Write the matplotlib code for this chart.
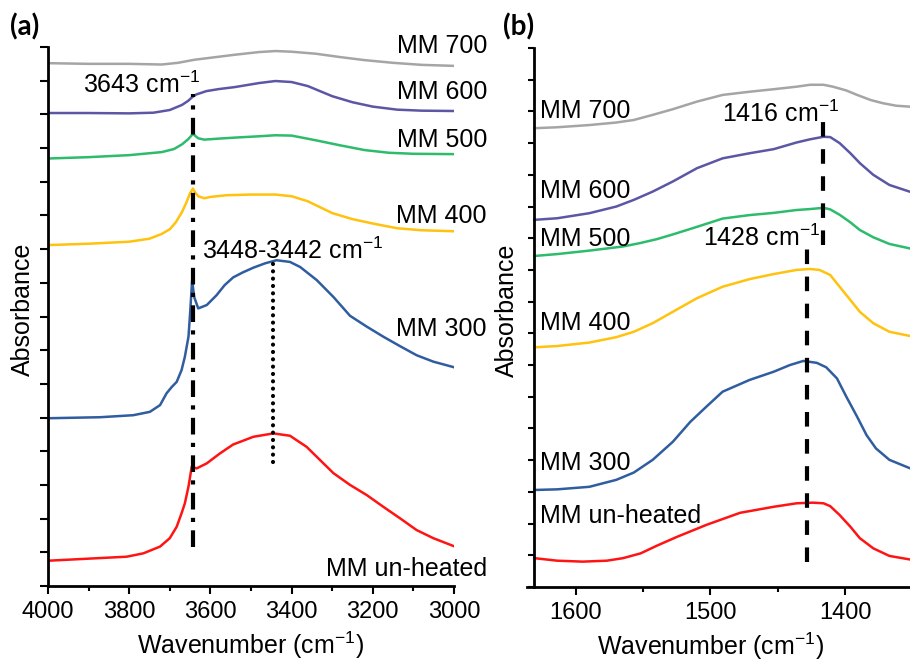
import matplotlib
matplotlib.use('Agg')
import matplotlib.pyplot as plt
from matplotlib.ticker import MultipleLocator, NullFormatter

plt.rcParams['font.family'] = ['Liberation Sans', 'DejaVu Sans']
plt.rcParams['mathtext.fontset'] = 'custom'
plt.rcParams['mathtext.rm'] = 'Liberation Sans'
plt.rcParams['mathtext.it'] = 'Liberation Sans:italic'
plt.rcParams['mathtext.bf'] = 'Liberation Sans:bold'

# ---- (a) O-H stretching region, offset spectra (a.u.) ----
a_wn_700 = [4000, 3900, 3800, 3720, 3680, 3640, 3600, 3540, 3480, 3440, 3400, 3340, 3280, 3220, 3150, 3080, 3000]
a_ab_700 = [15.52, 15.50, 15.50, 15.48, 15.53, 15.62, 15.68, 15.77, 15.85, 15.88, 15.86, 15.80, 15.70, 15.61, 15.53, 15.47, 15.44]

a_wn_600 = [4000, 3900, 3800, 3740, 3700, 3670, 3655, 3645, 3635, 3610, 3580, 3540, 3480, 3440, 3400, 3360, 3300, 3250, 3200, 3140, 3080, 3000]
a_ab_600 = [14.04, 14.04, 14.03, 14.05, 14.13, 14.28, 14.40, 14.51, 14.59, 14.69, 14.75, 14.81, 14.93, 14.99, 14.96, 14.84, 14.54, 14.36, 14.23, 14.14, 14.11, 14.10]

a_wn_500 = [4000, 3900, 3800, 3720, 3690, 3670, 3655, 3646, 3643, 3638, 3630, 3615, 3580, 3540, 3480, 3440, 3400, 3340, 3280, 3220, 3160, 3100, 3000]
a_ab_500 = [12.69, 12.73, 12.79, 12.88, 12.97, 13.11, 13.26, 13.38, 13.43, 13.37, 13.29, 13.25, 13.28, 13.31, 13.35, 13.38, 13.37, 13.23, 13.08, 12.94, 12.86, 12.83, 12.82]

a_wn_400 = [4000, 3900, 3800, 3750, 3720, 3700, 3685, 3670, 3660, 3650, 3643, 3638, 3630, 3615, 3600, 3560, 3500, 3440, 3400, 3360, 3300, 3250, 3200, 3140, 3080, 3000]
a_ab_400 = [10.12, 10.16, 10.22, 10.31, 10.45, 10.59, 10.80, 11.10, 11.36, 11.66, 11.80, 11.69, 11.57, 11.51, 11.55, 11.60, 11.62, 11.62, 11.57, 11.42, 11.07, 10.89, 10.76, 10.62, 10.56, 10.53]

a_wn_300 = [4000, 3872, 3790, 3749, 3724, 3708, 3695, 3683, 3671, 3663, 3654, 3650, 3645, 3640, 3630, 3609, 3585, 3565, 3544, 3520, 3494,
            3465, 3437, 3404, 3379, 3338, 3297, 3256, 3215, 3174, 3133, 3092, 3051, 3002]
a_ab_300 = [4.98, 5.01, 5.07, 5.17, 5.37, 5.72, 5.91, 6.06, 6.41, 6.80, 7.40, 8.09, 9.08, 8.58, 8.24, 8.34, 8.63, 8.93, 9.16, 9.31, 9.45,
            9.58, 9.67, 9.62, 9.47, 9.08, 8.58, 8.02, 7.70, 7.40, 7.12, 6.85, 6.66, 6.50]

a_wn_raw = [4000, 3806, 3765, 3724, 3700, 3683, 3671, 3663, 3654, 3646, 3634, 3609, 3576, 3544, 3494,
            3445, 3404, 3363, 3330, 3297, 3256, 3215, 3174, 3133, 3092, 3051, 3002]
a_ab_raw = [0.75, 0.87, 0.97, 1.17, 1.42, 1.76, 2.16, 2.45, 2.95, 3.54, 3.49, 3.64, 3.94, 4.20, 4.43,
            4.53, 4.46, 4.13, 3.74, 3.35, 3.00, 2.70, 2.35, 2.01, 1.66, 1.42, 1.19]

# ---- (b) carbonate region ----
b_wn_700 = [1631, 1614, 1590, 1570, 1557, 1543, 1528, 1510, 1491, 1471, 1453, 1436, 1426, 1416, 1409, 1399, 1391, 1381, 1372, 1362, 1352]
b_ab_700 = [14.47, 14.50, 14.57, 14.65, 14.73, 14.89, 15.07, 15.31, 15.52, 15.62, 15.70, 15.78, 15.84, 15.84, 15.78, 15.66, 15.52, 15.36, 15.26, 15.18, 15.15]

b_wn_600 = [1631, 1614, 1590, 1570, 1557, 1543, 1528, 1510, 1491, 1471, 1453, 1436, 1426, 1416, 1411, 1404, 1396, 1389, 1379, 1367, 1352]
b_ab_600 = [11.58, 11.63, 11.79, 12.00, 12.21, 12.47, 12.79, 13.21, 13.52, 13.68, 13.81, 14.02, 14.12, 14.20, 14.19, 14.00, 13.68, 13.37, 13.00, 12.68, 12.47]

b_wn_500 = [1631, 1614, 1590, 1565, 1552, 1540, 1528, 1510, 1491, 1471, 1453, 1436, 1426, 1416, 1411, 1404, 1396, 1389, 1379, 1367, 1352]
b_ab_500 = [10.44, 10.50, 10.61, 10.74, 10.85, 10.97, 11.12, 11.36, 11.62, 11.73, 11.80, 11.89, 11.92, 11.96, 11.91, 11.74, 11.50, 11.26, 11.03, 10.82, 10.68]

b_wn_400 = [1631, 1614, 1590, 1570, 1557, 1543, 1528, 1510, 1491, 1471, 1453, 1436, 1426, 1419, 1411, 1404, 1396, 1389, 1379, 1367, 1352]
b_ab_400 = [7.56, 7.60, 7.71, 7.88, 8.05, 8.32, 8.68, 9.11, 9.47, 9.71, 9.87, 10.00, 10.03, 10.00, 9.84, 9.47, 9.05, 8.68, 8.32, 8.05, 7.92]

b_wn_300 = [1631, 1614, 1590, 1570, 1557, 1543, 1528, 1515, 1503, 1491, 1471, 1453, 1441, 1431, 1421, 1414, 1406, 1399, 1391, 1384, 1377, 1367, 1352]
b_ab_300 = [3.06, 3.08, 3.16, 3.38, 3.61, 4.01, 4.58, 5.21, 5.69, 6.16, 6.53, 6.79, 7.00, 7.13, 7.07, 6.93, 6.58, 6.00, 5.37, 4.79, 4.37, 4.01, 3.75]

b_wn_raw = [1631, 1614, 1595, 1577, 1565, 1552, 1540, 1525, 1503, 1478, 1453, 1436, 1424, 1416, 1411, 1404, 1396, 1389, 1379, 1367, 1352]
b_ab_raw = [0.91, 0.83, 0.80, 0.83, 0.91, 1.06, 1.30, 1.58, 1.96, 2.34, 2.53, 2.64, 2.66, 2.64, 2.55, 2.27, 1.90, 1.54, 1.22, 0.98, 0.87]

names = ['MM 700', 'MM 600', 'MM 500', 'MM 400', 'MM 300', 'MM un-heated']
colors = ['#a5a5a5', '#5b57a5', '#2dbb6c', '#ffc20e', '#2f5d9f', '#ff1414']

# peak positions (cm-1)
peak_oh = 3643
peak_h2o = 3445
peak_co3_hi = 1416
peak_co3_lo = 1428

fig = plt.figure(figsize=(9.1, 6.63), dpi=100)
ax1 = fig.add_axes([48 / 910, 77 / 663, 406 / 910, 539 / 663])
ax2 = fig.add_axes([527 / 910, 76 / 663, 383 / 910, 539 / 663])

a_series = [(a_wn_700, a_ab_700), (a_wn_600, a_ab_600), (a_wn_500, a_ab_500),
            (a_wn_400, a_ab_400), (a_wn_300, a_ab_300), (a_wn_raw, a_ab_raw)]
b_series = [(b_wn_700, b_ab_700), (b_wn_600, b_ab_600), (b_wn_500, b_ab_500),
            (b_wn_400, b_ab_400), (b_wn_300, b_ab_300), (b_wn_raw, b_ab_raw)]

for (x, y), c in zip(a_series, colors):
    ax1.plot(x, y, color=c, linewidth=1.8, solid_joinstyle='round')
for (x, y), c in zip(b_series, colors):
    ax2.plot(x, y, color=c, linewidth=1.8, solid_joinstyle='round')

# marker lines
ax1.plot([peak_oh, peak_oh], [1.17, 14.59], color='black', linewidth=3,
         linestyle=(0, (4, 2, 1, 2)))
ax1.plot([peak_h2o, peak_h2o], [3.68, 9.73], color='black', linewidth=3,
         linestyle=(0, (0.01, 1.75)), dash_capstyle='round')
ax2.plot([peak_co3_hi, peak_co3_hi], [10.79, 14.67], color='black', linewidth=3,
         linestyle=(0, (3.5, 3)))
ax2.plot([peak_co3_lo, peak_co3_lo], [0.79, 10.85], color='black', linewidth=3,
         linestyle=(0, (3.5, 3)))

fs = 18
ax1.text(3625, 14.62, '%d cm$^{-1}$' % peak_oh, fontsize=fs, ha='right', va='baseline')
ax1.text(3621, 9.72, '3448-3442 cm$^{-1}$', fontsize=fs, ha='left', va='baseline')
ax2.text(1404, 14.68, '%d cm$^{-1}$' % peak_co3_hi, fontsize=fs, ha='right', va='baseline')
ax2.text(1418.5, 10.74, '%d cm$^{-1}$' % peak_co3_lo, fontsize=fs, ha='right', va='baseline')

# sample names
a_label_y = [15.81, 14.45, 13.04, 10.78, 7.42, 0.31]
for name, yy in zip(names, a_label_y):
    ax1.text(1.081, yy, name, fontsize=fs, ha='right', va='baseline',
             transform=ax1.get_yaxis_transform(), clip_on=False)
b_label_y = [14.79, 12.26, 10.76, 8.11, 3.69, 2.01]
for name, yy in zip(names, b_label_y):
    ax2.text(1627, yy, name, fontsize=fs, ha='left', va='baseline')

# axes styling
for ax in (ax1, ax2):
    ax.spines['top'].set_visible(False)
    ax.spines['right'].set_visible(False)
    ax.spines['left'].set_linewidth(2)
    ax.spines['bottom'].set_linewidth(2)
    ax.yaxis.set_major_locator(MultipleLocator(1))
    ax.yaxis.set_major_formatter(NullFormatter())
    ax.tick_params(axis='x', which='major', length=6, width=1.5, labelsize=17, pad=5)
    ax.tick_params(axis='x', which='minor', length=3.6, width=1.5)
    ax.set_ylabel('Absorbance', fontsize=fs)
    ax.set_xlabel('Wavenumber (cm$^{-1}$)', fontsize=fs)

ax1.set_xlim(4000, 3000)
ax1.set_ylim(0, 16)
ax1.xaxis.set_major_locator(MultipleLocator(200))
ax1.xaxis.set_minor_locator(MultipleLocator(100))
ax1.tick_params(axis='y', length=6, width=1.5)
ax1.yaxis.set_label_coords(-0.032, 0.513)
ax1.xaxis.set_label_coords(0.5, -0.08)

ax2.set_xlim(1636.4, 1351.7)
ax2.set_ylim(0, 17)
ax2.spines['left'].set_position(('data', 1631))
ax2.xaxis.set_major_locator(MultipleLocator(100))
ax2.xaxis.set_minor_locator(MultipleLocator(50))
ax2.tick_params(axis='y', length=4, width=1.5)
ax2.yaxis.set_label_coords(-0.022, 0.514)
ax2.xaxis.set_label_coords(0.48, -0.08)

fig.text(10 / 910, 1 - 27 / 663, '(a)', fontsize=20, fontweight='bold', va='center',
         family=['Lato', 'DejaVu Sans'])
fig.text(503 / 910, 1 - 27 / 663, '(b)', fontsize=20, fontweight='bold', va='center',
         family=['Lato', 'DejaVu Sans'])

fig.savefig('out.png', dpi=100)
